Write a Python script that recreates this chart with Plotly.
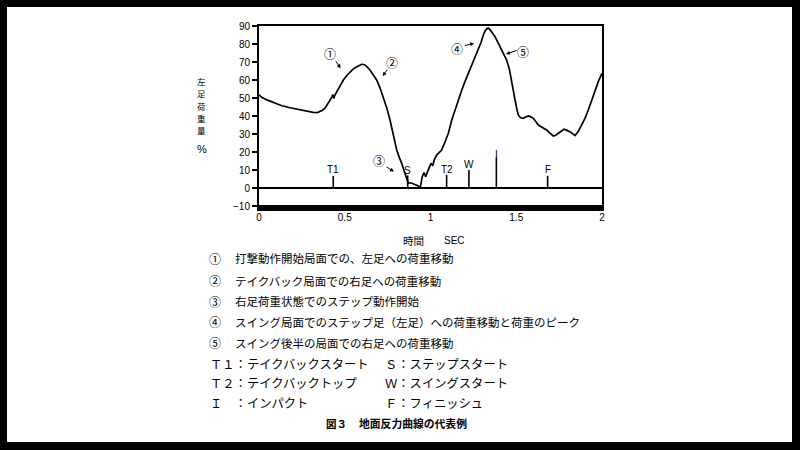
import plotly.graph_objects as go

# ---------------- data ----------------
time_sec = [0.0, 0.016, 0.05, 0.083, 0.13, 0.181, 0.22, 0.258, 0.29, 0.316, 0.34, 0.355, 0.37, 0.385,
            0.40, 0.414, 0.425, 0.43, 0.436, 0.442, 0.453, 0.47, 0.492, 0.512, 0.531, 0.55, 0.570,
            0.585, 0.599, 0.61, 0.618, 0.63, 0.647, 0.665, 0.686, 0.705, 0.725, 0.745, 0.764, 0.774,
            0.788, 0.803, 0.818, 0.832, 0.851, 0.862, 0.871, 0.885, 0.9, 0.915, 0.929, 0.939, 0.952,
            0.962, 0.972, 0.983, 0.997, 1.003, 1.013, 1.022, 1.036, 1.051, 1.065, 1.085, 1.104, 1.124,
            1.143, 1.162, 1.181, 1.201, 1.22, 1.240, 1.26, 1.279, 1.295, 1.308, 1.32, 1.331, 1.338,
            1.346, 1.36, 1.376, 1.39, 1.405, 1.425, 1.444, 1.46, 1.473, 1.483, 1.493, 1.503, 1.512,
            1.525, 1.541, 1.555, 1.570, 1.585, 1.600, 1.615, 1.629, 1.65, 1.677, 1.697, 1.716, 1.73,
            1.745, 1.762, 1.778, 1.795, 1.813, 1.828, 1.843, 1.862, 1.882, 1.90, 1.920, 1.94, 1.959,
            1.98, 2.0]
left_load_pct = [51.7, 50.4, 48.8, 47.4, 45.8, 44.6, 43.8, 43.3, 42.5, 42.0, 41.9, 42.4, 43.2, 44.3,
                 46.5, 48.9, 50.5, 52.0, 49.8, 51.5, 53.5, 56.8, 60.0, 62.5, 64.6, 66.2, 67.4,
                 68.2, 68.7, 68.6, 68.3, 67.3, 65.6, 63.0, 60.0, 55.8, 50.7, 44.5, 37.8, 33.0,
                 27.0, 21.1, 17.0, 13.7, 8.1, 4.5, 2.6, 2.9, 2.2, 1.8, 1.1, -0.4, 6.3,
                 8.5, 6.3, 9.1, 11.9, 13.7, 12.4, 15.6, 18.3, 19.6, 21.1, 25.7, 30.4, 37.8,
                 43.5, 48.9, 54.0, 59.1, 63.5, 68.3, 72.5, 76.7, 81.0, 85.0, 87.5, 88.7, 88.8,
                 88.1, 86.5, 84.1, 81.5, 78.5, 75.0, 71.1, 66.0, 60.0, 54.5, 48.9, 44.0, 40.6,
                 39.0, 38.7, 39.5, 40.0, 39.5, 38.7, 36.8, 35.0, 33.8, 32.2, 30.5, 28.9, 29.3,
                 30.4, 31.8, 32.6, 32.0, 31.3, 30.2, 29.1, 31.5, 35.0, 38.5, 43.3, 48.5, 54.4,
                 59.5, 63.7]

event_names = ["T1", "S", "T2", "W", "I", "F"]
event_times = [0.433, 0.867, 1.094, 1.224, 1.384, 1.683]
event_heights = [6.7, 7.0, 7.3, 10.0, 17.0, 6.8]
event_label_y = [10.4, 10.0, 10.4, 13.0, 18.5, 10.4]

phase_marks = ["①", "②", "③", "④", "⑤"]
phase_text_x = [0.414, 0.777, 0.700, 1.156, 1.541]
phase_text_y = [74.8, 69.8, 15.2, 77.6, 76.1]
phase_arrow_tail_x = [0.443, 0.754, 0.735, 1.191, 1.512]
phase_arrow_tail_y = [71.1, 66.5, 12.2, 78.9, 76.7]
phase_arrow_head_x = [0.476, 0.721, 0.787, 1.254, 1.440]
phase_arrow_head_y = [66.5, 62.2, 9.1, 80.4, 74.4]

x_tick_vals = [0, 0.5, 1, 1.5, 2]
x_tick_text = ["0", "0.5", "1", "1.5", "2"]
y_tick_vals = [-10, 0, 10, 20, 30, 40, 50, 60, 70, 80, 90]

y_title_chars = ["左", "足", "荷", "重", "量"]
legend_phase_lines = [
    "打撃動作開始局面での、左足への荷重移動",
    "テイクバック局面での右足への荷重移動",
    "右足荷重状態でのステップ動作開始",
    "スイング局面でのステップ足（左足）への荷重移動と荷重のピーク",
    "スイング後半の局面での右足への荷重移動",
]
legend_event_left = ["Ｔ１：テイクバックスタート", "Ｔ２：テイクバックトップ", "Ｉ　：インパクト"]
legend_event_right = ["Ｓ：ステップスタート", "Ｗ：スイングスタート", "Ｆ：フィニッシュ"]
caption_num = "図３"
caption_text = "地面反力曲線の代表例"

# ---------------- layout geometry (pixels) ----------------
L, W_, B, H_ = 259, 343, 206, 180


def px_x(px):
    return (px - L) / W_


def px_y(py):
    return (B - py) / H_


JP = "Noto Sans CJK JP"
NUM = "Liberation Sans"

fig = go.Figure()

fig.add_trace(go.Scatter(x=time_sec, y=left_load_pct, mode="lines",
                         line=dict(color="black", width=1.7), hoverinfo="skip"))

ev_x, ev_y = [], []
for t, h in zip(event_times, event_heights):
    ev_x += [t, t, None]
    ev_y += [0, h, None]
fig.add_trace(go.Scatter(x=ev_x, y=ev_y, mode="lines",
                         line=dict(color="black", width=1.6), hoverinfo="skip"))

ann = []
for name, t, ly in zip(event_names, event_times, event_label_y):
    ann.append(dict(x=t, y=ly, xref="x", yref="y", text=name, showarrow=False,
                    font=dict(family=NUM, size=10, color="black"), xanchor="center", yanchor="middle"))

for m, tx, ty, ax_, ay_, hx, hy in zip(phase_marks, phase_text_x, phase_text_y,
                                         phase_arrow_tail_x, phase_arrow_tail_y,
                                         phase_arrow_head_x, phase_arrow_head_y):
    ann.append(dict(x=tx, y=ty, xref="x", yref="y", text=m, showarrow=False,
                    font=dict(family=JP, size=12, color="black")))
    ann.append(dict(x=hx, y=hy, xref="x", yref="y", ax=ax_, ay=ay_, axref="x", ayref="y",
                    text="", showarrow=True, arrowhead=2, arrowsize=0.8, arrowwidth=1,
                    arrowcolor="black", standoff=0, startstandoff=0))

# y-axis title: stacked characters
for i, ch in enumerate(y_title_chars):
    py = 105.6 + (i - 2) * 12.4
    ann.append(dict(x=px_x(201.5), y=px_y(py), xref="paper", yref="paper", text=ch,
                    showarrow=False, font=dict(family=JP, size=8.5, color="black"),
                    xanchor="center", yanchor="middle"))
ann.append(dict(x=px_x(201.5), y=px_y(148.5), xref="paper", yref="paper", text="%", showarrow=False,
                font=dict(family=NUM, size=11, color="black"), xanchor="center", yanchor="middle"))
# x-axis title
ann.append(dict(x=px_x(413), y=px_y(240), xref="paper", yref="paper", text="時間", showarrow=False,
                font=dict(family=JP, size=10.5, color="black"), xanchor="center", yanchor="middle"))
ann.append(dict(x=px_x(454), y=px_y(240), xref="paper", yref="paper", text="SEC", showarrow=False,
                font=dict(family=NUM, size=10, color="black"), xanchor="center", yanchor="middle"))

# explanation lines
row_y = [258.3, 280.7, 301.0, 321.7, 342.7]
for m, txt, py in zip(phase_marks, legend_phase_lines, row_y):
    ann.append(dict(x=px_x(215), y=px_y(py), xref="paper", yref="paper", text=m, showarrow=False,
                    font=dict(family=JP, size=12, color="black"), xanchor="center", yanchor="middle"))
    ann.append(dict(x=px_x(233), y=px_y(py), xref="paper", yref="paper", text=txt, showarrow=False,
                    font=dict(family=JP, size=11.5, color="black"), xanchor="left", yanchor="middle"))
ev_rows = [364.0, 383.3, 403.3]
for lt, rt, py in zip(legend_event_left, legend_event_right, ev_rows):
    ann.append(dict(x=px_x(208), y=px_y(py), xref="paper", yref="paper", text=lt, showarrow=False,
                    font=dict(family=JP, size=12.3, color="black"), xanchor="left", yanchor="middle"))
    ann.append(dict(x=px_x(383), y=px_y(py), xref="paper", yref="paper", text=rt, showarrow=False,
                    font=dict(family=JP, size=12.3, color="black"), xanchor="left", yanchor="middle"))
ann.append(dict(x=px_x(324), y=px_y(423.3), xref="paper", yref="paper", text="<b>" + caption_num + "</b>",
                showarrow=False, font=dict(family=JP, size=10.5, color="black"), xanchor="left", yanchor="middle"))
ann.append(dict(x=px_x(357), y=px_y(423.3), xref="paper", yref="paper", text="<b>" + caption_text + "</b>",
                showarrow=False, font=dict(family=JP, size=10.8, color="black"), xanchor="left", yanchor="middle"))

shapes = [
    # white page inside the black border
    dict(type="rect", xref="paper", yref="paper", x0=px_x(7), x1=px_x(792), y0=px_y(442), y1=px_y(7),
         fillcolor="white", line=dict(width=0), layer="below"),
    # thick bottom axis bar
    dict(type="rect", xref="paper", yref="paper", x0=px_x(257), x1=px_x(604), y0=px_y(211), y1=px_y(205),
         fillcolor="black", line=dict(width=0), layer="above"),
]

fig.update_layout(
    width=800, height=450,
    margin=dict(l=L, r=800 - L - W_, t=B - H_, b=450 - B),
    paper_bgcolor="black", plot_bgcolor="white",
    showlegend=False,
    annotations=ann, shapes=shapes,
    xaxis=dict(range=[0, 2], tickvals=x_tick_vals, ticktext=x_tick_text, showgrid=False, zeroline=False,
               showline=True, linecolor="black", linewidth=2, mirror=True, ticks="", ticklabelstandoff=1,
               tickfont=dict(family=NUM, size=10, color="black")),
    yaxis=dict(range=[-10, 90], tickvals=y_tick_vals, showgrid=False, zeroline=True, zerolinecolor="black",
               zerolinewidth=1.5, showline=True, linecolor="black", linewidth=2, mirror=True,
               ticks="outside", ticklen=5, tickwidth=1.5, tickcolor="black",
               tickfont=dict(family=NUM, size=10, color="black")),
)

fig.write_html("out.html", config={"displayModeBar": False},
               post_script="document.body.style.margin='0px';document.body.style.overflow='hidden';")
